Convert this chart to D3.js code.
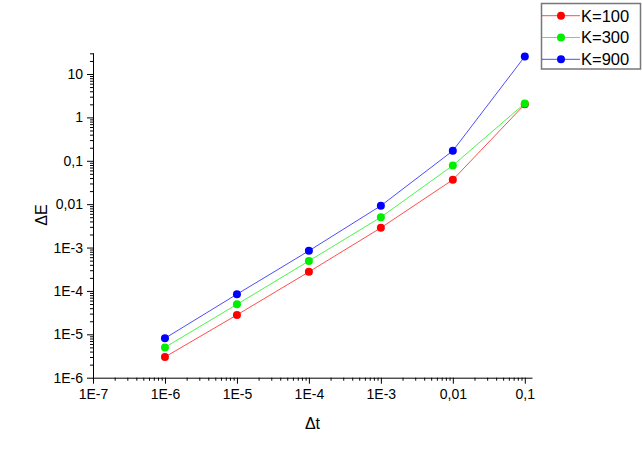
<!DOCTYPE html>
<html><head><meta charset="utf-8">
<script src="https://cdn.jsdelivr.net/npm/d3@7"></script>
<style>body{margin:0;background:#fff}svg{display:block}text{font-family:"Liberation Sans",Arial,sans-serif}</style>
</head><body>
<svg id="c" width="642" height="452"></svg>
<script>
const dt = [1e-6, 1e-5, 1e-4, 1e-3, 1e-2, 1e-1];
const seriesNames = ["K=100", "K=300", "K=900"];
const k100 = [3.0e-6, 2.8e-5, 2.75e-4, 2.85e-3, 0.0365, 2.0];
const k300 = [5.0e-6, 4.9e-5, 4.9e-4, 5.0e-3, 0.078, 2.1];
const k900 = [8.1e-6, 8.4e-5, 8.4e-4, 9.2e-3, 0.17, 25.4];
const colors = ["#ff0000", "#00ee00", "#0000ff"];
const xTickVals = [1e-7, 1e-6, 1e-5, 1e-4, 1e-3, 1e-2, 1e-1];
const xTickLabels = ["1E-7", "1E-6", "1E-5", "1E-4", "1E-3", "0,01", "0,1"];
const yTickVals = [1e-6, 1e-5, 1e-4, 1e-3, 1e-2, 1e-1, 1, 10];
const yTickLabels = ["1E-6", "1E-5", "1E-4", "1E-3", "0,01", "0,1", "1", "10"];

const svg = d3.select("#c");
const x = d3.scaleLog().domain([1e-7, 0.1259]).range([93, 532]);
const y = d3.scaleLog().domain([1e-6, 31]).range([377.7, 52.7]);

function minors(dom) {
  const out = [];
  for (let e = -8; e <= 2; e++) for (let k = 2; k <= 9; k++) {
    const v = k * Math.pow(10, e);
    if (v >= dom[0] && v <= dom[1]) out.push(v);
  }
  return out;
}

// x axis
const gx = svg.append("g").attr("transform", `translate(0,${y(1e-6)})`);
gx.call(d3.axisBottom(x).tickValues(minors(x.domain())).tickSize(3).tickSizeOuter(0).tickFormat(""));
gx.append("g").call(d3.axisBottom(x).tickValues(xTickVals).tickSize(6).tickSizeOuter(0)
  .tickFormat((d, i) => xTickLabels[i]));
gx.selectAll("text").attr("font-size", 14).attr("fill", "#000").attr("y", 9).attr("dy", "0.9em");
gx.selectAll("path,line").attr("stroke", "#000");
gx.selectAll("g > g > path").remove();

// y axis
const gy = svg.append("g").attr("transform", `translate(${x(1e-7)},0)`);
gy.call(d3.axisLeft(y).tickValues(minors(y.domain())).tickSize(3).tickSizeOuter(0).tickFormat(""));
gy.append("g").call(d3.axisLeft(y).tickValues(yTickVals).tickSize(6).tickSizeOuter(0)
  .tickFormat((d, i) => yTickLabels[i]));
gy.selectAll("text").attr("font-size", 14).attr("fill", "#000").attr("x", -10);
gy.selectAll("path,line").attr("stroke", "#000");
gy.selectAll("g > g > path").remove();

// axis titles
svg.append("text").attr("x", 312.5).attr("y", 429).attr("text-anchor", "middle")
  .attr("font-size", 16).text("Δt");
svg.append("text").attr("transform", `translate(46.5,215) rotate(-90)`).attr("text-anchor", "middle")
  .attr("font-size", 16).text("ΔE");

// series
const all = [k100, k300, k900];
const line = d3.line().x((d, i) => x(dt[i])).y(d => y(d));
all.forEach((s, si) => {
  svg.append("path").datum(s).attr("d", line).attr("fill", "none")
    .attr("stroke", colors[si]).attr("stroke-width", 1).attr("stroke-opacity", 0.7);
});
all.forEach((s, si) => {
  svg.selectAll(null).data(s).enter().append("circle")
    .attr("cx", (d, i) => x(dt[i])).attr("cy", d => y(d)).attr("r", 4).attr("fill", colors[si]);
});

// legend
const lg = svg.append("g");
lg.append("rect").attr("x", 541.5).attr("y", 3.5).attr("width", 99).attr("height", 65.5)
  .attr("fill", "#fff").attr("stroke", "#777").attr("stroke-width", 1.5);
seriesNames.forEach((n, i) => {
  const yy = 15.7 + i * 21.8;
  lg.append("line").attr("x1", 542).attr("x2", 580).attr("y1", yy).attr("y2", yy)
    .attr("stroke", colors[i]).attr("stroke-width", 1).attr("stroke-opacity", 0.7);
  lg.append("circle").attr("cx", 561).attr("cy", yy).attr("r", 4).attr("fill", colors[i]);
  lg.append("text").attr("x", 581).attr("y", yy).attr("dy", "0.36em").attr("font-size", 16.5).text(n);
});
</script>
</body></html>
